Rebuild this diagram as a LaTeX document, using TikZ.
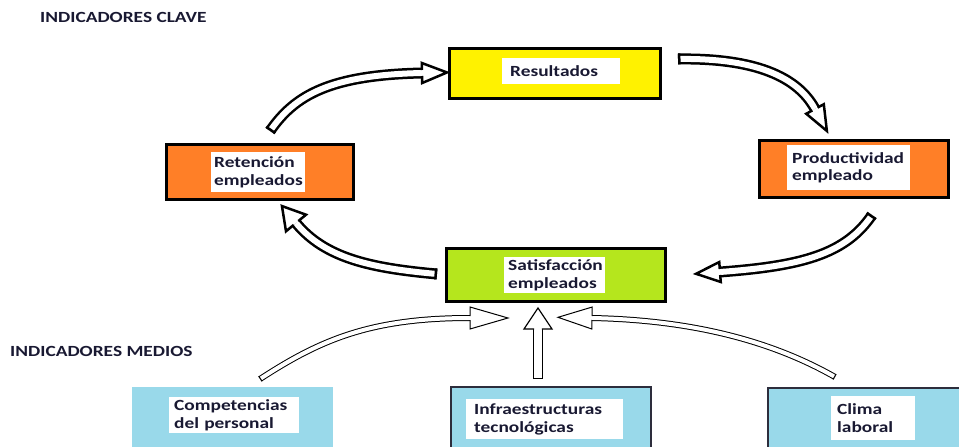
\documentclass[tikz,border=0pt]{standalone}
\usepackage{fontspec}
\newfontfamily\lblfont[FakeStretch=1.25]{Carlito}
\usetikzlibrary{calc}

\definecolor{keyyellow}{HTML}{FFF200}
\definecolor{keyorange}{HTML}{FF7F27}
\definecolor{keygreen}{HTML}{B5E61D}
\definecolor{midblue}{HTML}{99D9EA}
\definecolor{inktext}{RGB}{25,25,50}
\definecolor{midedge}{RGB}{45,45,60}

\tikzset{
  keybox/.style={draw=black, line width=3pt, inner sep=0pt},
  midbox/.style={fill=midblue, inner sep=0pt},
  tag/.style={fill=white, inner ysep=0pt, align=left, anchor=north west,
    text=inktext, font=\lblfont\bfseries\fontsize{15.5}{17.5}\selectfont},
  heading/.style={anchor=base west, inner sep=0pt, text=inktext,
    font=\lblfont\bfseries\fontsize{15.5}{17.5}\selectfont},
  arrowline/.style={draw=black}
}

% Hollow block arrow along a cubic curve:
% #1 outer width, #2 outline width, #3 head half-width, #4 head length,
% #5 start, #6 first control, #7 second control, #8 end
\newcommand\blockarrow[8]{%
  \pgfmathsetmacro\baouter{#1}%
  \pgfmathsetmacro\bainner{#1-2*#2}%
  \pgfmathsetmacro\bahalf{#1/2}%
  \pgfmathsetmacro\bainhalf{#1/2-#2}%
  \pgfmathsetmacro\batail{#2/2}%
  \draw[arrowline, line width=\baouter pt] (#5) .. controls (#6) and (#7) .. (#8);
  \draw[white, line width=\bainner pt] (#5) .. controls (#6) and (#7) .. (#8);
  % closed tail
  \draw[arrowline, line width=#2pt]
    let \p1=($(#6)-(#5)$), \n1={atan2(\y1,\x1)} in
    ($(#5)+(\n1:\batail pt)+({\n1+90}:\bahalf pt)$) --
    ($(#5)+(\n1:\batail pt)+({\n1-90}:\bahalf pt)$);
  % open-backed head
  \draw[arrowline, line width=#2pt, fill=white, line join=miter]
    let \p1=($(#8)-(#7)$), \n1={atan2(\y1,\x1)} in
    ($(#8)+({\n1+90}:\bainhalf pt)$) -- ($(#8)+({\n1+90}:#3pt)$) --
    ($(#8)+(\n1:#4pt)$) --
    ($(#8)+({\n1-90}:#3pt)$) -- ($(#8)+({\n1-90}:\bainhalf pt)$);
}

\begin{document}
\begin{tikzpicture}[x=1pt, y=-1pt]
\useasboundingbox (0,0) rectangle (959,447);
\clip (0,0) rectangle (959,447);
\fill[white] (0,0) rectangle (959,447);

% headings
\node[heading] (kh) at (40,23) {INDICADORES CLAVE};
\node[heading] (mh) at (10,356) {INDICADORES MEDIOS};

% key indicator boxes
\node[keybox, fill=keyyellow, minimum width=211pt, minimum height=50pt] (res) at (555,73.5) {};
\node[keybox, fill=keyorange, minimum width=187pt, minimum height=55pt] (ret) at (260,172) {};
\node[keybox, fill=keyorange, minimum width=189pt, minimum height=57pt] (prod) at (854,169) {};
\node[keybox, fill=keygreen, minimum width=219pt, minimum height=53pt] (sat) at (556,275) {};

% supporting indicator boxes
\node[midbox, minimum width=201pt, minimum height=73pt] (comp) at (232.5,423.5) {};
\node[midbox, draw=midedge, line width=1.2pt, minimum width=200pt, minimum height=73pt] (infra) at (551,423.5) {};
\node[midbox, draw=midedge, line width=1.2pt, minimum width=197pt, minimum height=72pt] (clima) at (866.5,424) {};

% labels
\node[tag, text width=102pt, inner xsep=8pt, minimum height=26pt] (resT) at (502,58) {Resultados};
\node[tag, text width=88pt, inner xsep=3pt, minimum height=40pt] (retT) at (211,152) {Retención\\empleados};
\node[tag, text width=113pt, inner xsep=5pt, minimum height=45pt] (prodT) at (787,145) {Productividad\\empleado};
\node[tag, text width=93pt, inner xsep=4pt, minimum height=36pt] (satT) at (504,257) {Satisfacción\\empleados};
\node[tag, text width=120pt, inner xsep=5pt, minimum height=36pt] (compT) at (169,397) {Competencias\\del personal};
\node[tag, text width=141pt, inner xsep=8pt, minimum height=40pt] (infraT) at (466,399) {Infraestructuras\\tecnológicas};
\node[tag, text width=72pt, inner xsep=6pt, minimum height=44pt] (climaT) at (831,396) {Clima\\laboral};

% arrow end points
\coordinate (a1s) at ([shift={(10,-41)}]ret.center);
\coordinate (a1e) at ([shift={(-133,-0.5)}]res.center);
\coordinate (a2s) at ([shift={(123,-14.5)}]res.center);
\coordinate (a2e) at ([shift={(-39,-60)}]prod.center);
\coordinate (a3s) at ([shift={(18,46)}]prod.center);
\coordinate (a3e) at ([shift={(164,-3)}]sat.center);
\coordinate (a4s) at ([shift={(-119,-1)}]sat.center);
\coordinate (a4e) at ([shift={(36,51)}]ret.center);
\coordinate (a5s) at ([shift={(27.5,-44.5)}]comp.center);
\coordinate (a5e) at ([shift={(-86,43)}]sat.center);
\coordinate (a6s) at ([shift={(-13,-44.5)}]infra.center);
\coordinate (a6e) at ([shift={(-18,54)}]sat.center);
\coordinate (a7s) at ([shift={(-31.5,-47)}]clima.center);
\coordinate (a7e) at ([shift={(36,43)}]sat.center);

% cycle of key indicators
\blockarrow{11}{2.5}{10}{25}{a1s}{295,95}{330,75}{a1e}
\blockarrow{11}{2.5}{10}{25}{a2s}{745,58}{795,72}{a2e}
\blockarrow{11}{2.5}{10}{24}{a3s}{845,255}{800,266}{a3e}
\blockarrow{11}{2.5}{13}{22}{a4s}{370,268}{325,258}{a4e}

% supporting indicators feeding satisfaction
\blockarrow{6}{1}{11}{38}{a5s}{320,340}{370,318}{a5e}
\blockarrow{10}{1.2}{14}{21}{a6s}{538,362}{538,346}{a6e}
\blockarrow{6}{1}{11}{34}{a7s}{770,340}{690,320}{a7e}
\end{tikzpicture}
\end{document}
